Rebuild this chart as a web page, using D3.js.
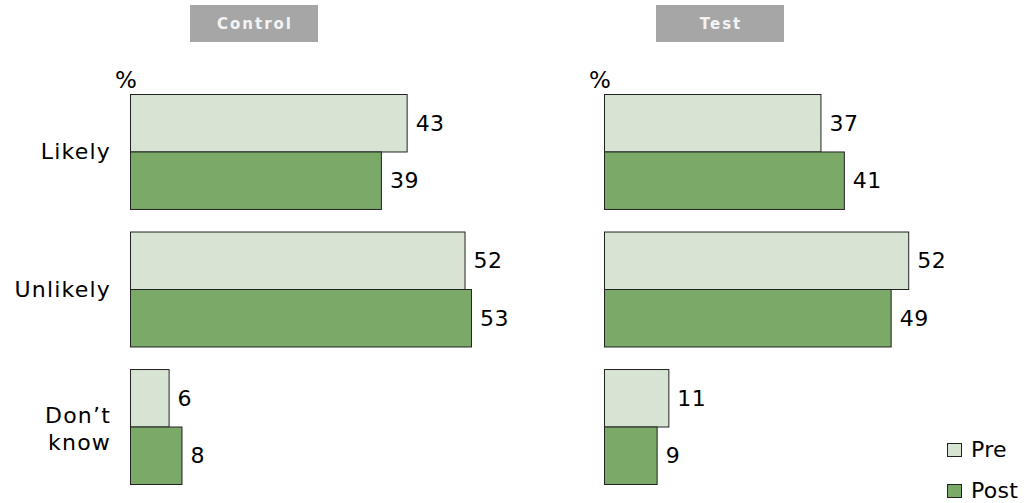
<!DOCTYPE html>
<html>
<head>
<meta charset="utf-8">
<script src="https://cdn.jsdelivr.net/npm/d3@7"></script>
<style>
  body { margin: 0; background: #fff; }
  svg text { font-family: "DejaVu Sans", Verdana, sans-serif; }
</style>
</head>
<body>
<div id="chart"></div>
<script>
var categories = ["Likely", "Unlikely", "Don\u2019t know"];
var series = ["Pre", "Post"];
var panels = ["Control", "Test"];
var controlPre = [43, 52, 6];
var controlPost = [39, 53, 8];
var testPre = [37, 52, 11];
var testPost = [41, 49, 9];

var width = 1028, height = 503;
var color = { Pre: "#d8e4d3", Post: "#7ba968" };

var svg = d3.select("#chart").append("svg")
  .attr("width", width)
  .attr("height", height);

// category bands, shared by both panels
var y = d3.scaleBand()
  .domain(categories)
  .range([94, 484])
  .paddingInner(0.164);

var ySub = d3.scaleBand()
  .domain(series)
  .range([0, y.bandwidth()]);

var panelData = [
  { name: panels[0], pre: controlPre, post: controlPost, x0: 130, x1: 516, hx: 190 },
  { name: panels[1], pre: testPre, post: testPost, x0: 604, x1: 955, hx: 656 }
];

panelData.forEach(function (p) {
  var x = d3.scaleLinear().domain([0, 60]).range([p.x0, p.x1]);
  var g = svg.append("g").attr("class", "panel");

  // header box
  g.append("rect")
    .attr("x", p.hx).attr("y", 5)
    .attr("width", 128).attr("height", 37)
    .attr("fill", "#a6a6a6");
  g.append("text")
    .attr("x", p.hx + 65).attr("y", 29)
    .attr("text-anchor", "middle")
    .attr("fill", "#f4f4f4")
    .style("font-size", "15px")
    .style("font-weight", "bold")
    .style("letter-spacing", "2px")
    .text(p.name);

  g.append("text")
    .attr("x", p.x0 - 15).attr("y", 88)
    .style("font-size", "23px")
    .text("%");

  var rows = [];
  categories.forEach(function (c, i) {
    rows.push({ cat: c, s: "Pre", v: p.pre[i] });
    rows.push({ cat: c, s: "Post", v: p.post[i] });
  });

  var bars = g.selectAll("g.bar")
    .data(rows)
    .enter().append("g")
    .attr("class", "bar")
    .attr("transform", function (d) { return "translate(0," + (y(d.cat) + ySub(d.s)) + ")"; });

  bars.append("rect")
    .attr("x", x(0) + 0.5)
    .attr("y", 0.5)
    .attr("width", function (d) { return x(d.v) - x(0); })
    .attr("height", ySub.bandwidth())
    .attr("fill", function (d) { return color[d.s]; })
    .attr("stroke", "#222")
    .attr("stroke-width", 1);

  bars.append("text")
    .attr("x", function (d) { return x(d.v) + 9; })
    .attr("y", ySub.bandwidth() / 2)
    .attr("dy", "0.36em")
    .style("font-size", "22px")
    .style("letter-spacing", "0.5px")
    .text(function (d) { return d.v; });
});

// category labels
var catLabels = svg.append("g").selectAll("text")
  .data(categories)
  .enter().append("text")
  .attr("text-anchor", "end")
  .attr("transform", function (d) { return "translate(111," + (y(d) + y.bandwidth() / 2) + ")"; })
  .style("font-size", "22px")
  .style("letter-spacing", "1.2px");

catLabels.each(function (d) {
  var words = d === "Don\u2019t know" ? ["Don\u2019t", "know"] : [d];
  var t = d3.select(this);
  words.forEach(function (w, i) {
    t.append("tspan")
      .attr("x", 0)
      .attr("y", (i - (words.length - 1) / 2) * 27 + (words.length > 1 ? 2 : 0))
      .attr("dy", "0.36em")
      .text(w);
  });
});

// legend
var legend = svg.append("g").selectAll("g")
  .data(series)
  .enter().append("g")
  .attr("transform", function (d, i) { return "translate(947," + (443 + i * 41) + ")"; });

legend.append("rect")
  .attr("x", 0.5).attr("y", 0.5)
  .attr("width", 14).attr("height", 13)
  .attr("fill", function (d) { return color[d]; })
  .attr("stroke", "#222");

legend.append("text")
  .attr("x", 24).attr("y", 14)
  .style("font-size", "22px")
  .style("letter-spacing", "0.3px")
  .text(function (d) { return d; });
</script>
</body>
</html>
